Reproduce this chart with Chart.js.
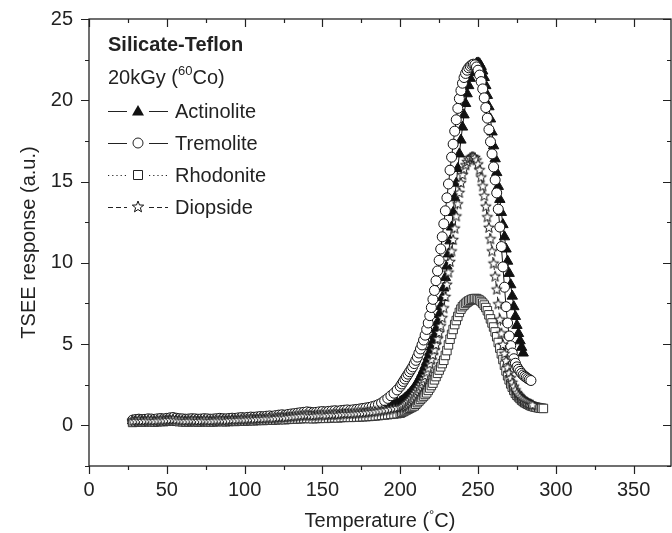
<!DOCTYPE html>
<html>
<head>
<meta charset="utf-8">
<script src="https://cdn.jsdelivr.net/npm/chart.js@4.4.0/dist/chart.umd.min.js"></script>
<style>
  html, body { margin: 0; padding: 0; background: #fff; }
  #wrap { width: 672px; height: 533px; }
</style>
</head>
<body>
<div id="wrap"><canvas id="chart" width="672" height="533"></canvas></div>
<script>
// ---- data ----
const temps = [
  28,30,32,34,36,38,40,42,44,46,48,50,52,54,56,58,60,62,64,66,68,70,72,74,76,78,80,82,84,86,88,90,92,94,96,98,
  100,102,104,106,108,110,112,114,116,118,120,122,124,126,128,130,132,134,136,138,140,142,144,146,148,150,
  152,154,156,158,160,162,164,166,168,170,172,174,176,178,180,182,184,186,188,190,192,194,196,198,
  200,201,202,203,204,205,206,207,208,209,210,211,212,213,214,215,216,217,218,219,220,221,222,223,224,225,
  226,227,228,229,230,231,232,233,234,235,236,237,238,239,240,241,242,243,244,245,246,247,248,249,250,251,
  252,253,254,255,256,257,258,259,260,261,262,263,264,265,266,267,268,269,270,271,272,273,274,275,276,277,
  278,279,280,281,282,283,284,285,286,287,288,289,290,291,292
];

const actinolite = [
  0.28,0.3,0.32,0.3,0.31,0.33,0.32,0.3,0.32,0.34,
  0.33,0.35,0.37,0.38,0.35,0.33,0.32,0.3,0.31,0.33,
  0.32,0.3,0.31,0.33,0.32,0.3,0.31,0.33,0.34,0.33,
  0.32,0.34,0.36,0.35,0.37,0.39,0.38,0.4,0.41,0.4,
  0.42,0.44,0.43,0.45,0.47,0.45,0.48,0.5,0.52,0.5,
  0.53,0.56,0.58,0.6,0.62,0.64,0.66,0.64,0.62,0.64,
  0.66,0.68,0.66,0.69,0.7,0.72,0.7,0.73,0.75,0.76,
  0.75,0.77,0.79,0.81,0.83,0.85,0.87,0.9,0.93,0.97,
  1.02,1.08,1.15,1.23,1.31,1.38,
  1.45,1.5,1.58,1.66,1.75,1.85,1.95,2.05,2.18,2.32,
  2.47,2.62,2.8,3.0,3.2,3.42,3.66,3.92,4.2,4.5,
  4.82,5.16,5.52,5.92,6.35,6.82,7.32,7.86,8.45,9.1,
  9.8,10.55,11.35,12.2,13.1,14.0,14.9,15.8,16.7,17.55,
  18.35,19.1,19.8,20.4,20.9,21.35,21.7,21.98,22.15,22.27,
  22.3,22.25,22.08,21.8,21.4,20.9,20.3,19.6,18.85,18.05,
  17.2,16.4,15.55,14.7,13.9,13.1,12.35,11.6,10.85,10.1,
  9.35,8.65,7.95,7.3,6.7,6.15,5.65,5.2,4.8,4.45
];

const tremolite = [
  0.32,0.36,0.38,0.35,0.37,0.4,0.39,0.37,0.4,0.42,
  0.4,0.43,0.46,0.48,0.44,0.41,0.4,0.38,0.39,0.41,
  0.4,0.38,0.39,0.41,0.4,0.38,0.39,0.41,0.43,0.41,
  0.4,0.42,0.44,0.43,0.46,0.48,0.46,0.49,0.51,0.5,
  0.52,0.54,0.53,0.56,0.58,0.56,0.6,0.63,0.65,0.63,
  0.67,0.7,0.72,0.75,0.78,0.8,0.83,0.81,0.78,0.8,
  0.83,0.85,0.83,0.86,0.88,0.9,0.88,0.91,0.93,0.95,
  0.93,0.96,0.98,1.01,1.04,1.07,1.1,1.15,1.2,1.28,
  1.38,1.52,1.66,1.82,1.98,2.18,
  2.4,2.55,2.7,2.85,3.0,3.15,3.3,3.45,3.6,3.8,
  4.0,4.2,4.45,4.7,4.95,5.25,5.55,5.9,6.3,6.75,
  7.25,7.75,8.3,8.9,9.5,10.15,10.85,11.6,12.4,13.2,
  14.0,14.85,15.7,16.5,17.3,18.1,18.8,19.5,20.1,20.6,
  21.05,21.4,21.65,21.85,22.0,22.1,22.18,22.22,22.18,22.05,
  21.85,21.55,21.15,20.7,20.15,19.55,18.9,18.2,17.45,16.7,
  15.9,15.1,14.3,13.3,12.2,11.0,9.75,8.5,7.3,6.3,
  5.5,4.9,4.45,4.1,3.82,3.6,3.45,3.32,3.2,3.1,
  3.02,2.95,2.88,2.82,2.76
];

const rhodonite = [
  0.18,0.2,0.22,0.2,0.21,0.23,0.22,0.2,0.22,0.24,
  0.23,0.25,0.27,0.28,0.25,0.23,0.22,0.2,0.21,0.23,
  0.22,0.2,0.21,0.23,0.22,0.2,0.21,0.23,0.24,0.23,
  0.22,0.24,0.25,0.24,0.26,0.27,0.26,0.28,0.29,0.28,
  0.3,0.31,0.3,0.32,0.33,0.32,0.34,0.35,0.36,0.35,
  0.37,0.38,0.39,0.4,0.41,0.42,0.43,0.42,0.41,0.42,
  0.43,0.44,0.43,0.45,0.46,0.47,0.46,0.48,0.49,0.5,
  0.49,0.5,0.51,0.52,0.53,0.54,0.55,0.56,0.58,0.6,
  0.62,0.64,0.66,0.68,0.7,0.72,
  0.75,0.8,0.85,0.9,0.95,1.0,1.05,1.1,1.15,1.2,
  1.3,1.4,1.5,1.6,1.7,1.8,1.9,2.0,2.15,2.3,
  2.45,2.6,2.8,3.0,3.2,3.4,3.6,3.8,4.0,4.3,
  4.6,4.95,5.3,5.6,5.9,6.2,6.45,6.7,6.95,7.15,
  7.3,7.4,7.5,7.58,7.65,7.7,7.75,7.78,7.8,7.8,
  7.75,7.7,7.62,7.52,7.4,7.25,7.05,6.8,6.55,6.3,
  6.05,5.75,5.45,5.1,4.75,4.4,4.05,3.7,3.35,3.05,
  2.8,2.55,2.35,2.15,1.97,1.85,1.75,1.65,1.55,1.47,
  1.4,1.35,1.3,1.25,1.2,1.17,1.14,1.12,1.1,1.08,
  1.06,1.05,1.04
];

const diopside = [
  0.25,0.27,0.29,0.27,0.28,0.3,0.29,0.27,0.29,0.31,
  0.3,0.32,0.34,0.35,0.32,0.3,0.29,0.27,0.28,0.3,
  0.29,0.27,0.28,0.3,0.29,0.27,0.28,0.3,0.31,0.3,
  0.29,0.31,0.33,0.32,0.34,0.36,0.35,0.37,0.38,0.37,
  0.39,0.41,0.4,0.42,0.44,0.42,0.45,0.47,0.49,0.47,
  0.5,0.52,0.54,0.56,0.58,0.6,0.62,0.6,0.58,0.6,
  0.62,0.63,0.61,0.64,0.65,0.67,0.65,0.68,0.7,0.71,
  0.7,0.72,0.73,0.75,0.76,0.78,0.8,0.82,0.84,0.87,
  0.9,0.93,0.96,1.0,1.04,1.07,
  1.1,1.15,1.2,1.28,1.36,1.45,1.55,1.65,1.78,1.92,
  2.06,2.2,2.35,2.5,2.66,2.84,3.04,3.26,3.5,3.76,
  4.03,4.32,4.62,4.94,5.3,5.68,6.1,6.6,7.2,7.9,
  8.65,9.4,10.05,10.7,11.4,12.1,12.85,13.6,14.3,14.9,
  15.4,15.75,16.0,16.2,16.35,16.45,16.5,16.5,16.45,16.3,
  16.05,15.7,15.25,14.7,14.1,13.45,12.8,12.15,11.45,10.7,
  9.95,9.15,8.35,7.45,6.5,5.65,4.95,4.4,3.95,3.55,
  3.2,2.9,2.62,2.38,2.15,1.97,1.83,1.72,1.62,1.54,
  1.47,1.41,1.36,1.31,1.27,1.24
];

const xTicks = [0, 50, 100, 150, 200, 250, 300, 350];
const yTicks = [0, 5, 10, 15, 20, 25];
const xMinor = [25, 75, 125, 175, 225, 275, 325, 375];
const yMinor = [-2.5, 2.5, 7.5, 12.5, 17.5, 22.5];

const FONT = "'Liberation Sans', Arial, sans-serif";
const INK = "#222";

function toPoints(vals) {
  return vals.map((v, i) => ({ x: temps[i], y: v }));
}

// open five-point star used for Diopside
function makeStar(r) {
  const size = Math.ceil(r * 2 + 3);
  const c = document.createElement("canvas");
  c.width = size; c.height = size;
  const g = c.getContext("2d");
  drawStar(g, size / 2, size / 2, r);
  return c;
}
function drawStar(g, cx, cy, r) {
  g.beginPath();
  for (let k = 0; k < 10; k++) {
    const rr = k % 2 === 0 ? r : r * 0.42;
    const a = -Math.PI / 2 + k * Math.PI / 5;
    const px = cx + rr * Math.cos(a), py = cy + rr * Math.sin(a);
    if (k === 0) g.moveTo(px, py); else g.lineTo(px, py);
  }
  g.closePath();
  g.fillStyle = "#fff";
  g.fill();
  g.lineWidth = 1;
  g.strokeStyle = "#111";
  g.stroke();
}
const starImg = makeStar(5.5);

// pin the plot box to where the figure has it
const pinArea = {
  id: "pinArea",
  afterLayout(chart) {
    const a = chart.chartArea;
    const xs = chart.scales.x;
    a.right = 671;
    a.width = a.right - a.left;
    xs.right = 671;
    xs.width = xs.right - xs.left;
    xs.configure();
  }
};

// frame, ticks, titles and inset legend
const decor = {
  id: "decor",
  afterDraw(chart) {
    const ctx = chart.ctx;
    const xs = chart.scales.x, ys = chart.scales.y;
    const a = chart.chartArea;
    ctx.save();
    ctx.strokeStyle = "#222";
    ctx.lineWidth = 1.3;
    ctx.strokeRect(a.left, a.top, a.right - a.left, a.bottom - a.top);

    ctx.lineWidth = 1.2;
    ctx.beginPath();
    xTicks.forEach(v => {
      const p = Math.round(xs.getPixelForValue(v)) + 0.5;
      ctx.moveTo(p, a.bottom); ctx.lineTo(p, a.bottom + 8);
      ctx.moveTo(p, a.top); ctx.lineTo(p, a.top + 8);
    });
    xMinor.forEach(v => {
      const p = Math.round(xs.getPixelForValue(v)) + 0.5;
      if (p > a.right) return;
      ctx.moveTo(p, a.bottom); ctx.lineTo(p, a.bottom + 4);
      ctx.moveTo(p, a.top); ctx.lineTo(p, a.top + 4);
    });
    yTicks.forEach(v => {
      const p = Math.round(ys.getPixelForValue(v)) + 0.5;
      ctx.moveTo(a.left, p); ctx.lineTo(a.left - 8, p);
      ctx.moveTo(a.right, p); ctx.lineTo(a.right - 8, p);
    });
    yMinor.forEach(v => {
      const p = Math.round(ys.getPixelForValue(v)) + 0.5;
      ctx.moveTo(a.left, p); ctx.lineTo(a.left - 4, p);
      ctx.moveTo(a.right, p); ctx.lineTo(a.right - 4, p);
    });
    ctx.stroke();

    // axis titles
    ctx.fillStyle = INK;
    ctx.font = "20px " + FONT;
    ctx.textBaseline = "middle";
    ctx.textAlign = "left";
    const t1 = "Temperature (", t2 = "C)";
    const w1 = ctx.measureText(t1).width;
    ctx.font = "13px " + FONT;
    const wd = ctx.measureText("°").width;
    ctx.font = "20px " + FONT;
    const w2 = ctx.measureText(t2).width;
    let tx = (a.left + a.right) / 2 - (w1 + wd + w2) / 2;
    ctx.fillText(t1, tx, 521);
    ctx.font = "13px " + FONT;
    ctx.fillText("°", tx + w1, 515);
    ctx.font = "20px " + FONT;
    ctx.fillText(t2, tx + w1 + wd, 521);

    ctx.save();
    ctx.translate(29, (a.top + a.bottom) / 2);
    ctx.rotate(-Math.PI / 2);
    ctx.textAlign = "center";
    ctx.fillText("TSEE response (a.u.)", 0, 0);
    ctx.restore();

    // legend block
    const lx = 108;
    ctx.textAlign = "left";
    ctx.font = "bold 20px " + FONT;
    ctx.fillText("Silicate-Teflon", lx, 45);
    ctx.font = "20px " + FONT;
    ctx.fillText("20kGy (", lx, 78);
    let ox = lx + ctx.measureText("20kGy (").width;
    ctx.font = "13px " + FONT;
    ctx.fillText("60", ox, 71);
    ox += ctx.measureText("60").width;
    ctx.font = "20px " + FONT;
    ctx.fillText("Co)", ox, 78);

    const entries = [
      { name: "Actinolite", y: 111, dash: [], mark: "tri" },
      { name: "Tremolite", y: 143, dash: [], mark: "circ" },
      { name: "Rhodonite", y: 175, dash: [1.2, 3], mark: "sq" },
      { name: "Diopside", y: 207, dash: [5, 3], mark: "star" }
    ];
    entries.forEach(e => {
      ctx.strokeStyle = "#222";
      ctx.lineWidth = 1;
      ctx.setLineDash(e.dash);
      ctx.beginPath();
      ctx.moveTo(lx, e.y + 0.5); ctx.lineTo(lx + 19, e.y + 0.5);
      ctx.moveTo(lx + 41, e.y + 0.5); ctx.lineTo(lx + 60, e.y + 0.5);
      ctx.stroke();
      ctx.setLineDash([]);
      const mx = lx + 30, my = e.y;
      ctx.beginPath();
      if (e.mark === "tri") {
        ctx.moveTo(mx, my - 6); ctx.lineTo(mx + 6, my + 4.5); ctx.lineTo(mx - 6, my + 4.5); ctx.closePath();
        ctx.fillStyle = "#111"; ctx.fill();
      } else if (e.mark === "circ") {
        ctx.arc(mx, my, 5, 0, Math.PI * 2);
        ctx.fillStyle = "#fff"; ctx.fill(); ctx.stroke();
      } else if (e.mark === "sq") {
        ctx.rect(mx - 4.5, my - 4.5, 9, 9);
        ctx.fillStyle = "#fff"; ctx.fill(); ctx.stroke();
      } else {
        drawStar(ctx, mx, my, 6);
      }
      ctx.fillStyle = INK;
      ctx.font = "20px " + FONT;
      ctx.fillText(e.name, lx + 67, e.y + 1);
    });
    ctx.restore();
  }
};

new Chart(document.getElementById("chart"), {
  type: "scatter",
  data: {
    datasets: [
      {
        label: "Diopside",
        data: toPoints(diopside),
        showLine: true,
        borderColor: "#222",
        borderWidth: 1,
        borderDash: [5, 3],
        pointStyle: starImg,
        pointRadius: 5.5,
        order: 0
      },
      {
        label: "Rhodonite",
        data: toPoints(rhodonite),
        showLine: true,
        borderColor: "#333",
        borderWidth: 1,
        borderDash: [1.2, 3],
        pointStyle: "rect",
        pointRadius: 6,
        pointBackgroundColor: "#fff",
        pointBorderColor: "#333",
        pointBorderWidth: 1,
        order: 1
      },
      {
        label: "Tremolite",
        data: toPoints(tremolite),
        showLine: true,
        borderColor: "#111",
        borderWidth: 1,
        pointStyle: "circle",
        pointRadius: 5,
        pointBackgroundColor: "#fff",
        pointBorderColor: "#111",
        pointBorderWidth: 1,
        order: 2
      },
      {
        label: "Actinolite",
        data: toPoints(actinolite),
        showLine: true,
        borderColor: "#111",
        borderWidth: 1,
        pointStyle: "triangle",
        pointRadius: 6,
        pointBackgroundColor: "#111",
        pointBorderColor: "#111",
        pointBorderWidth: 1,
        order: 3
      }
    ]
  },
  options: {
    responsive: false,
    animation: false,
    layout: { padding: { top: 19, right: 1, left: 0, bottom: 0 } },
    plugins: { legend: { display: false }, tooltip: { enabled: false } },
    scales: {
      x: {
        type: "linear",
        min: 0,
        max: 374,
        grid: { display: false, drawTicks: false },
        border: { display: false },
        afterBuildTicks: s => { s.ticks = xTicks.map(v => ({ value: v })); },
        afterFit: s => { s.height = 67; s.paddingLeft = 0; s.paddingRight = 0; },
        ticks: { color: INK, font: { family: FONT, size: 20 }, padding: 12, maxRotation: 0 }
      },
      y: {
        type: "linear",
        min: -2.5,
        max: 25,
        grid: { display: false, drawTicks: false },
        border: { display: false },
        afterBuildTicks: s => { s.ticks = yTicks.map(v => ({ value: v })); },
        afterFit: s => { s.width = 89; s.paddingTop = 0; s.paddingBottom = 0; },
        ticks: { color: INK, font: { family: FONT, size: 20 }, padding: 16 }
      }
    }
  },
  plugins: [pinArea, decor]
});
</script>
</body>
</html>
